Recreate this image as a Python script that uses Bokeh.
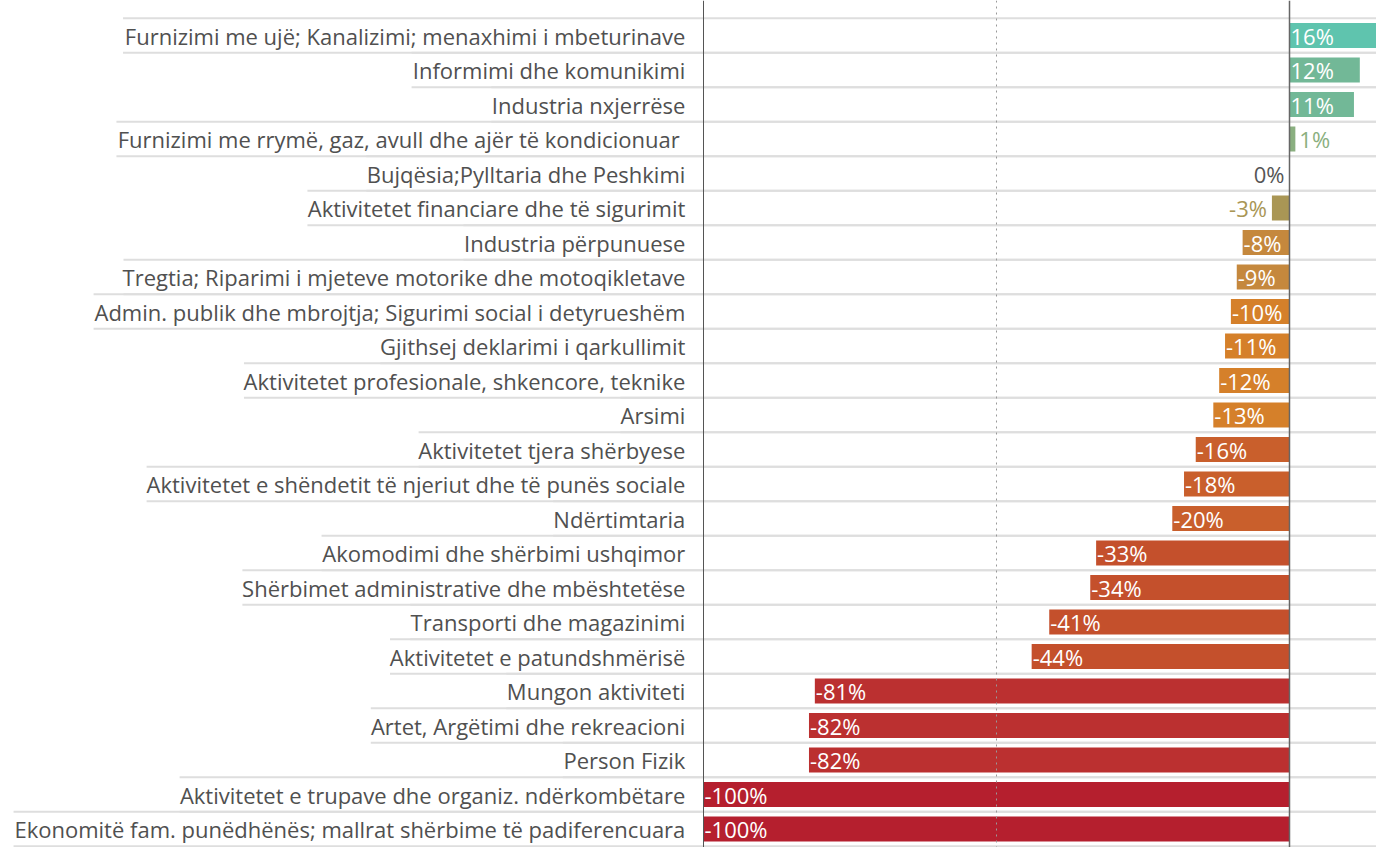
from bokeh.plotting import figure
from bokeh.models import ColumnDataSource, Range1d, Span
from bokeh.core.properties import value
from bokeh.embed import file_html
from bokeh.resources import INLINE

categories = [
    "Furnizimi me ujë; Kanalizimi; menaxhimi i mbeturinave",
    "Informimi dhe komunikimi",
    "Industria nxjerrëse",
    "Furnizimi me rrymë, gaz, avull dhe  ajër të kondicionuar",
    "Bujqësia;Pylltaria dhe Peshkimi",
    "Aktivitetet financiare dhe të sigurimit",
    "Industria përpunuese",
    "Tregtia; Riparimi i mjeteve motorike dhe motoqikletave",
    "Admin. publik dhe mbrojtja; Sigurimi social i detyrueshëm",
    "Gjithsej deklarimi i qarkullimit",
    "Aktivitetet profesionale, shkencore, teknike",
    "Arsimi",
    "Aktivitetet tjera shërbyese",
    "Aktivitetet e shëndetit të njeriut dhe të punës sociale",
    "Ndërtimtaria",
    "Akomodimi dhe shërbimi ushqimor",
    "Shërbimet administrative dhe mbështetëse",
    "Transporti dhe magazinimi",
    "Aktivitetet e patundshmërisë",
    "Mungon aktiviteti",
    "Artet, Argëtimi dhe rekreacioni",
    "Person Fizik",
    "Aktivitetet e trupave dhe organiz. ndërkombëtare",
    "Ekonomitë fam. punëdhënës; mallrat shërbime të padiferencuara",
]
values = [16, 12, 11, 1, 0, -3, -8, -9, -10, -11, -12, -13, -16, -18, -20,
          -33, -34, -41, -44, -81, -82, -82, -100, -100]
colors = ["#5fc4ae", "#72b897", "#72b897", "#8aaf80", "#888888", "#a99655",
          "#c5883d", "#c5883d", "#d5802a", "#d5802a", "#d5802a", "#d5802a",
          "#c95f2c", "#c95f2c", "#c95f2c", "#c4502c", "#c4502c", "#c4502c",
          "#c4502c", "#bb3030", "#bb3030", "#bb3030", "#b51f2e", "#b51f2e"]

FONT = "Open Sans"
FS = 22
PX = 586.0                 # pixels per 100 %
LABEL_X = -1.031
X_MIN = -1289 / PX
X_MAX = (1376 - 1289) / PX
ROW = 34.5

# approximate Open Sans advance widths (em) to estimate label extents
_W = {"a": .556, "b": .613, "c": .494, "d": .613, "e": .561, "f": .339, "g": .548,
      "h": .614, "i": .253, "j": .253, "k": .525, "l": .253, "m": .930, "n": .614,
      "o": .604, "p": .613, "q": .613, "r": .408, "s": .477, "t": .353, "u": .614,
      "v": .501, "w": .778, "x": .524, "y": .502, "z": .477, " ": .260, ".": .266,
      ",": .245, ";": .266, "ë": .561, "ç": .494, "A": .633, "B": .648, "E": .547,
      "F": .537, "G": .702, "I": .303, "K": .612, "M": .923, "N": .760, "P": .601,
      "S": .531, "T": .541}


def text_px(s):
    return sum(_W.get(ch, .56) for ch in s) * FS


n = len(categories)
ys = list(range(n))
frac = [v / 100.0 for v in values]

p = figure(width=1376, height=847, output_backend="svg", toolbar_location=None,
           x_range=Range1d(X_MIN, X_MAX),
           y_range=Range1d((847 - 35) / ROW, -35 / ROW),
           min_border=0, outline_line_color=None)
p.xaxis.visible = False
p.yaxis.visible = False
p.xgrid.visible = False
p.ygrid.visible = False

# separator lines (top and bottom of each row, from label start to right edge)
x0s, y0s, x1s, y1s = [], [], [], []
for i, c in enumerate(categories):
    start = LABEL_X - text_px(c) / PX
    for yy in (i - 0.5, i + 0.5):
        x0s.append(start); x1s.append(X_MAX); y0s.append(yy); y1s.append(yy)
p.segment(x0=x0s, y0=y0s, x1=x1s, y1=y1s, line_color="#dedede", line_width=2)

# reference lines
p.add_layout(Span(location=-0.5, dimension="height", line_color="#999999",
                  line_width=1, line_dash="2 4"))

src = ColumnDataSource(dict(y=ys, left=[min(f, 0) for f in frac],
                            right=[max(f, 0) for f in frac], color=colors,
                            cat=categories))
p.hbar(y="y", left="left", right="right", height=0.72, color="color",
       source=src, line_color=None)

p.add_layout(Span(location=-1.0, dimension="height", line_color="#555555", line_width=1))
p.add_layout(Span(location=0.0, dimension="height", line_color="#666666", line_width=1.5))

# category labels
p.text(x=LABEL_X, y="y", text="cat", source=src, text_align="right",
       text_baseline="middle", text_font=value(FONT), text_font_size=f"{FS}px",
       text_color="#505050")

# value labels
in_x, in_y, in_t = [], [], []
out_x, out_y, out_t, out_c, out_a = [], [], [], [], []
for i, (v, f, c) in enumerate(zip(values, frac, colors)):
    t = f"{v}%"
    if abs(v) >= 5:
        in_x.append(min(f, 0)); in_y.append(i); in_t.append(t)
    else:
        if v > 0:
            out_x.append(f); out_a.append("left"); out_c.append(c)
        elif v < 0:
            out_x.append(f); out_a.append("right"); out_c.append(c)
        else:
            out_x.append(f); out_a.append("right"); out_c.append("#555555")
        out_y.append(i); out_t.append(t)

p.text(x=in_x, y=in_y, text=in_t, x_offset=1, text_align="left",
       text_baseline="middle", text_font=value(FONT), text_font_size="22px",
       text_color="white")
osrc = ColumnDataSource(dict(x=out_x, y=out_y, t=out_t, c=out_c, a=out_a,
                             off=[4 if a == "left" else -5 for a in out_a]))
p.text(x="x", y="y", text="t", x_offset="off", text_align="a", text_color="c",
       source=osrc, text_baseline="middle", text_font=value(FONT),
       text_font_size="22px")

open("out.html", "w").write(file_html(p, INLINE))
